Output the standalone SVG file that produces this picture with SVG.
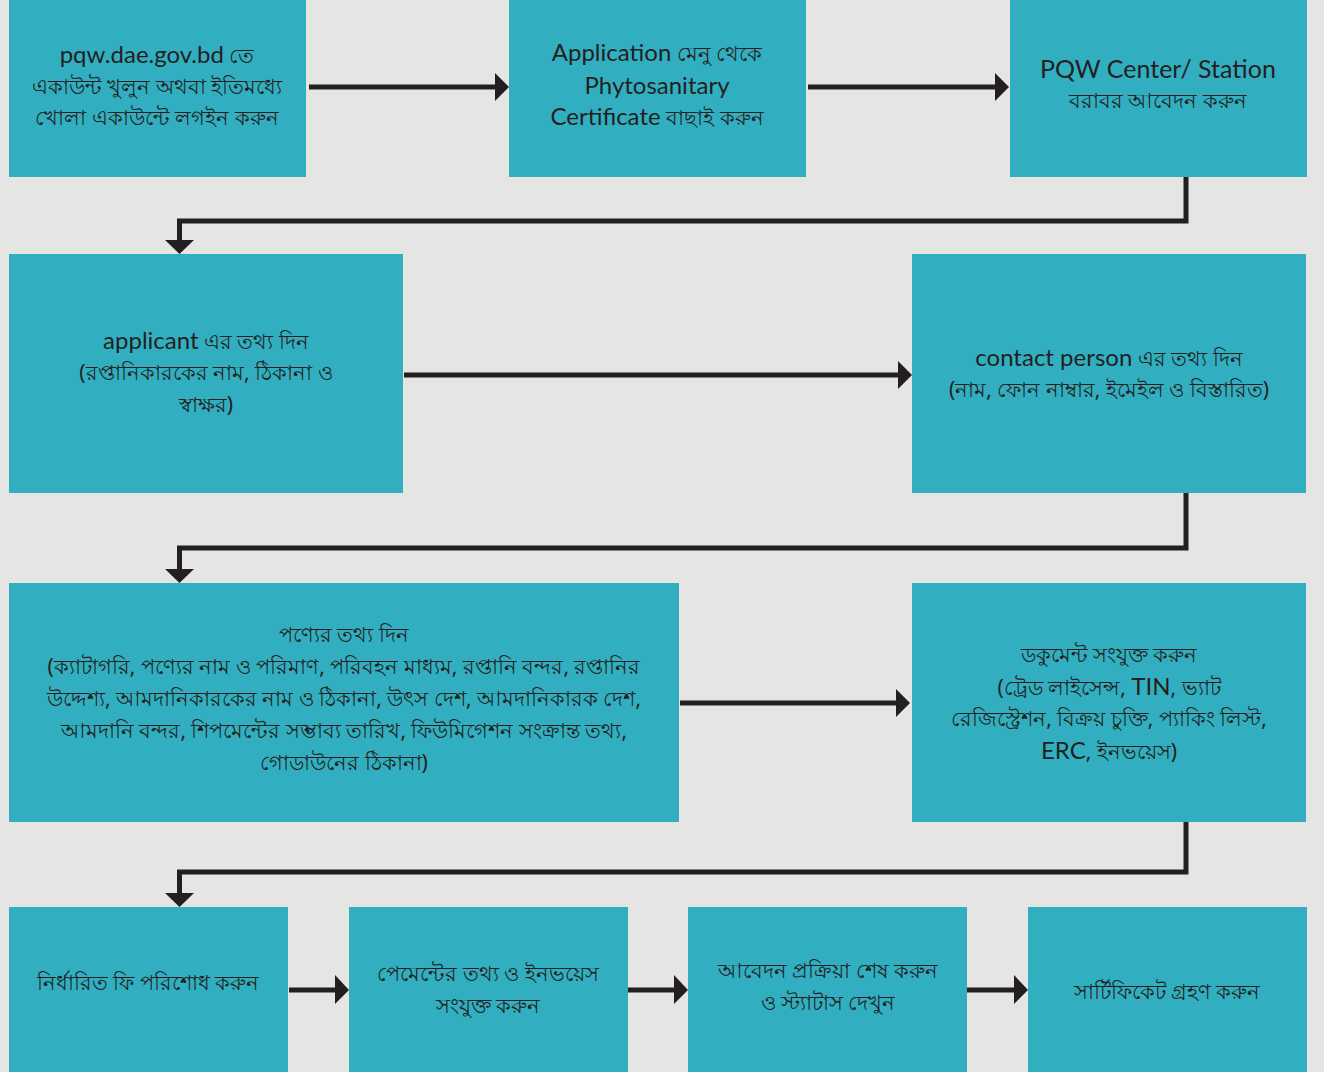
<svg xmlns="http://www.w3.org/2000/svg" width="1324" height="1072" viewBox="0 0 1324 1072">
<defs>
<style>
.bg{fill:#e5e5e4}
.box{fill:#31afc1}
.t{font-family:"Noto Sans","Liberation Sans",sans-serif;font-size:21px;fill:#231f20;text-anchor:middle}
.l{font-family:Lato,"Noto Sans","Liberation Sans",sans-serif;font-size:24px}
.c{fill:none;stroke:#231f20;stroke-width:5}
.ah{fill:#231f20}
</style>
</defs>
<rect class="bg" x="0" y="0" width="1324" height="1072"/>
<g id="connectors">
<path class="c" d="M309 87H496"/><polygon class="ah" points="495,73 509,87 495,101"/>
<path class="c" d="M808 87H996"/><polygon class="ah" points="995,73 1009,87 995,101"/>
<path class="c" d="M1186 177V221H179.5V241"/><polygon class="ah" points="165,240 194,240 179.5,254"/>
<path class="c" d="M404 375H899"/><polygon class="ah" points="898,361 912,375 898,389"/>
<path class="c" d="M1186 493V548H179.5V570"/><polygon class="ah" points="165,569 194,569 179.5,583"/>
<path class="c" d="M680 703H897"/><polygon class="ah" points="896,689 910,703 896,717"/>
<path class="c" d="M1186 822V872H179.5V894"/><polygon class="ah" points="165,893 194,893 179.5,907"/>
<path class="c" d="M289 990H336"/><polygon class="ah" points="335,975 349,990 335,1004"/>
<path class="c" d="M628 990H675"/><polygon class="ah" points="674,975 688,990 674,1004"/>
<path class="c" d="M967 990H1015"/><polygon class="ah" points="1014,975 1028,990 1014,1004"/>
</g>
<g id="n1"><rect class="box" x="9" y="0" width="297" height="177"/>
<text class="t" x="157" y="63"><tspan class="l">pqw.dae.gov.bd</tspan> তে</text>
<text class="t" x="157" y="94">একাউন্ট খুলুন অথবা ইতিমধ্যে</text>
<text class="t" x="157" y="125">খোলা একাউন্টে লগইন করুন</text></g>
<g id="n2"><rect class="box" x="509" y="0" width="297" height="177"/>
<text class="t" x="657" y="61"><tspan class="l">Application</tspan> মেনু থেকে</text>
<text class="t l" x="657" y="94">Phytosanitary</text>
<text class="t" x="657" y="125"><tspan class="l">Certificate</tspan> বাছাই করুন</text></g>
<g id="n3"><rect class="box" x="1010" y="0" width="297" height="177"/>
<text class="t l" x="1158" y="78" style="font-size:25px">PQW Center/ Station</text>
<text class="t" x="1158" y="108">বরাবর আবেদন করুন</text></g>
<g id="n4"><rect class="box" x="9" y="254" width="394" height="239"/>
<text class="t" x="206" y="349"><tspan class="l">applicant</tspan> এর তথ্য দিন</text>
<text class="t" x="206" y="380">(রপ্তানিকারকের নাম, ঠিকানা ও</text>
<text class="t" x="206" y="412">স্বাক্ষর)</text></g>
<g id="n5"><rect class="box" x="912" y="254" width="394" height="239"/>
<text class="t" x="1109" y="366"><tspan class="l">contact person</tspan> এর তথ্য দিন</text>
<text class="t" x="1109" y="397">(নাম, ফোন নাম্বার, ইমেইল ও বিস্তারিত)</text></g>
<g id="n6"><rect class="box" x="9" y="583" width="670" height="239"/>
<text class="t" x="344" y="642">পণ্যের তথ্য দিন</text>
<text class="t" x="344" y="674">(ক্যাটাগরি, পণ্যের নাম ও পরিমাণ, পরিবহন মাধ্যম, রপ্তানি বন্দর, রপ্তানির</text>
<text class="t" x="344" y="706">উদ্দেশ্য, আমদানিকারকের নাম ও ঠিকানা, উৎস দেশ, আমদানিকারক দেশ,</text>
<text class="t" x="344" y="738">আমদানি বন্দর, শিপমেন্টের সম্ভাব্য তারিখ, ফিউমিগেশন সংক্রান্ত তথ্য,</text>
<text class="t" x="344" y="770">গোডাউনের ঠিকানা)</text></g>
<g id="n7"><rect class="box" x="912" y="583" width="394" height="239"/>
<text class="t" x="1109" y="662">ডকুমেন্ট সংযুক্ত করুন</text>
<text class="t" x="1109" y="695">(ট্রেড লাইসেন্স, <tspan class="l">TIN</tspan>, ভ্যাট</text>
<text class="t" x="1109" y="726">রেজিস্ট্রেশন, বিক্রয় চুক্তি, প্যাকিং লিস্ট,</text>
<text class="t" x="1109" y="759"><tspan class="l">ERC</tspan>, ইনভয়েস)</text></g>
<g id="n8"><rect class="box" x="9" y="907" width="279" height="165"/>
<text class="t" x="148" y="990">নির্ধারিত ফি পরিশোধ করুন</text></g>
<g id="n9"><rect class="box" x="349" y="907" width="279" height="165"/>
<text class="t" x="488" y="981">পেমেন্টের তথ্য ও ইনভয়েস</text>
<text class="t" x="488" y="1013">সংযুক্ত করুন</text></g>
<g id="n10"><rect class="box" x="688" y="907" width="279" height="165"/>
<text class="t" x="828" y="978">আবেদন প্রক্রিয়া শেষ করুন</text>
<text class="t" x="828" y="1010">ও স্ট্যাটাস দেখুন</text></g>
<g id="n11"><rect class="box" x="1028" y="907" width="279" height="165"/>
<text class="t" x="1167" y="999">সার্টিফিকেট গ্রহণ করুন</text></g>
</svg>
